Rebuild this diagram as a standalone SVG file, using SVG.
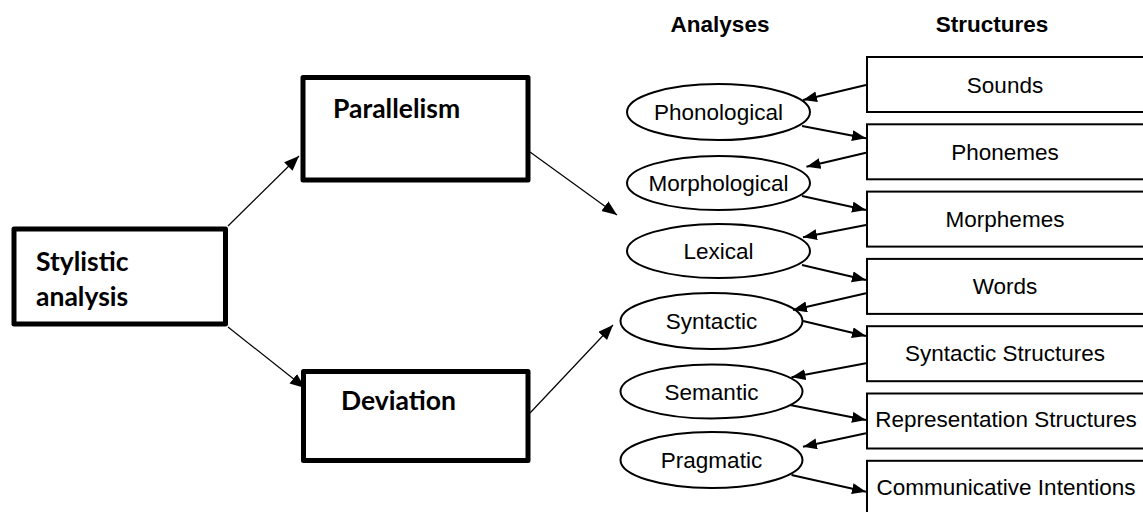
<svg xmlns="http://www.w3.org/2000/svg" width="1143" height="512" viewBox="0 0 1143 512">
<style>
.thick{fill:#fff;stroke:#000;stroke-width:5;stroke-linejoin:round}
.bt{font-family:Lato,"Liberation Sans",sans-serif;font-weight:bold;font-size:26.5px;fill:#000}
.ell{fill:#fff;stroke:#000;stroke-width:2}
.box{fill:#fff;stroke:#000;stroke-width:2}
.t{font-family:"Liberation Sans",Arial,sans-serif;font-size:22.5px;fill:#000;text-anchor:middle}
.h{font-family:"Liberation Sans",Arial,sans-serif;font-size:22.5px;font-weight:bold;fill:#000;text-anchor:middle}
.thin{stroke:#000;stroke-width:1.2;fill:none;marker-end:url(#ah)}
.med{stroke:#000;stroke-width:2;fill:none;marker-end:url(#ah2)}
</style>
<defs>
<marker id="ah" markerUnits="userSpaceOnUse" markerWidth="16" markerHeight="14" refX="15" refY="6" orient="auto"><path d="M0,0 L15,6 L0,12 z" fill="#000"/></marker>
<marker id="ah2" markerUnits="userSpaceOnUse" markerWidth="15" markerHeight="12" refX="14" refY="5.5" orient="auto"><path d="M0,0 L14,5.5 L0,11 z" fill="#000"/></marker>
</defs>
<rect width="1143" height="512" fill="#fff"/>
<text class="h" x="720" y="32">Analyses</text>
<text class="h" x="992" y="32">Structures</text>
<g id="stylistic"><rect class="thick" x="14" y="229" width="211.5" height="95"/><text class="bt" x="36" y="271">Stylistic</text><text class="bt" x="36" y="306">analysis</text></g>
<g id="parallelism"><rect class="thick" x="303" y="77.5" width="225" height="102.5"/><text class="bt" x="333" y="118">Parallelism</text></g>
<g id="deviation"><rect class="thick" x="303.5" y="371.5" width="224.5" height="89"/><text class="bt" x="341" y="410">Deviation</text></g>
<g id="phonological"><ellipse class="ell" cx="718.5" cy="112" rx="91.5" ry="28"/><text class="t" x="718.5" y="120">Phonological</text></g>
<g id="morphological"><ellipse class="ell" cx="718.5" cy="183" rx="91.5" ry="27"/><text class="t" x="718.5" y="191">Morphological</text></g>
<g id="lexical"><ellipse class="ell" cx="718.5" cy="251" rx="91.5" ry="27"/><text class="t" x="718.5" y="259">Lexical</text></g>
<g id="syntactic"><ellipse class="ell" cx="711.5" cy="321" rx="91" ry="28"/><text class="t" x="711.5" y="329">Syntactic</text></g>
<g id="semantic"><ellipse class="ell" cx="711.5" cy="391.5" rx="91" ry="27"/><text class="t" x="711.5" y="399.5">Semantic</text></g>
<g id="pragmatic"><ellipse class="ell" cx="711.5" cy="460" rx="91" ry="28"/><text class="t" x="711.5" y="468">Pragmatic</text></g>
<g id="sounds"><rect class="box" x="867" y="57" width="290" height="55"/><text class="t" x="1005" y="92.5">Sounds</text></g>
<g id="phonemes"><rect class="box" x="867" y="124.3" width="290" height="55"/><text class="t" x="1005" y="159.5">Phonemes</text></g>
<g id="morphemes"><rect class="box" x="867" y="191.6" width="290" height="55"/><text class="t" x="1005" y="226.8">Morphemes</text></g>
<g id="words"><rect class="box" x="867" y="258.9" width="290" height="55"/><text class="t" x="1005" y="294">Words</text></g>
<g id="syntactic-structures"><rect class="box" x="867" y="326.2" width="290" height="55"/><text class="t" x="1005" y="361.4">Syntactic Structures</text></g>
<g id="representation-structures"><rect class="box" x="867" y="393.5" width="290" height="55"/><text class="t" x="1006" y="427">Representation Structures</text></g>
<g id="communicative-intentions"><rect class="box" x="867" y="460.8" width="290" height="55"/><text class="t" x="1006" y="495">Communicative Intentions</text></g>
<g id="connectors">
<path class="thin" d="M228,226 L299,156"/>
<path class="thin" d="M228,327 L305,388"/>
<path class="thin" d="M530,152 L617,215"/>
<path class="thin" d="M530,413 L613,325"/>
<path class="med" d="M866,85 L803,100"/>
<path class="med" d="M802,126 L866,138.3"/>
<path class="med" d="M866,152.7 L806.5,166.7"/>
<path class="med" d="M802,196 L866,210"/>
<path class="med" d="M866,225 L803,237.3"/>
<path class="med" d="M802,265 L866,280"/>
<path class="med" d="M866,293.3 L793,310"/>
<path class="med" d="M803,321 L866,336"/>
<path class="med" d="M866,363.3 L791.5,377.3"/>
<path class="med" d="M790,405 L866,420"/>
<path class="med" d="M866,433.3 L803,446.7"/>
<path class="med" d="M791.5,475 L866,491.7"/>
</g>
</svg>
